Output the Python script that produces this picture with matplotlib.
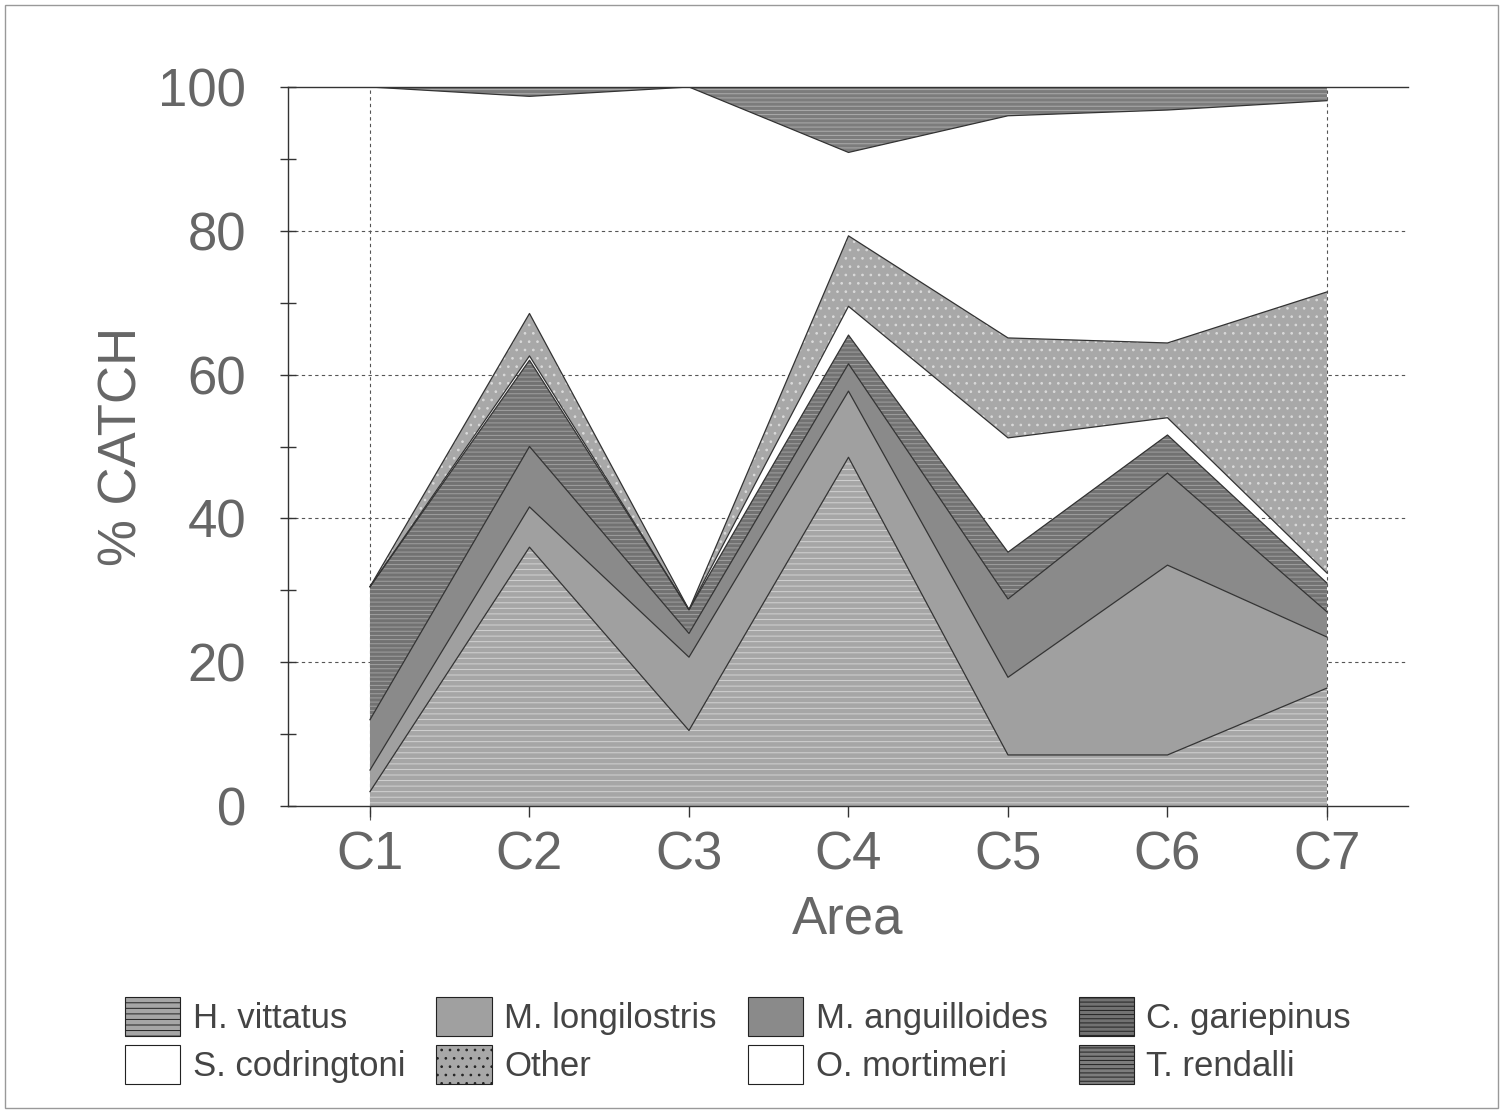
import numpy as np
import matplotlib
matplotlib.use("Agg")
import matplotlib.pyplot as plt
from matplotlib.patches import Patch, Rectangle

# percentage of catch per area
areas = ["C1", "C2", "C3", "C4", "C5", "C6", "C7"]
species = ["H. vittatus", "M. longilostris", "M. anguilloides", "C. gariepinus",
           "S. codringtoni", "Other", "O. mortimeri", "T. rendalli"]
h_vittatus = [2.0, 36.0, 10.5, 48.5, 7.1, 7.1, 16.4]
m_longilostris = [3.0, 5.6, 10.2, 9.2, 10.8, 26.4, 7.1]
m_anguilloides = [7.0, 8.4, 3.3, 3.8, 10.9, 12.8, 3.5]
c_gariepinus = [18.5, 12.0, 3.3, 4.0, 6.5, 5.3, 4.0]
s_codringtoni = [0.0, 0.6, 0.0, 4.0, 15.9, 2.4, 1.4]
other = [0.0, 5.9, 0.0, 9.8, 13.9, 10.4, 39.1]
o_mortimeri = [69.5, 30.2, 72.7, 11.6, 30.9, 32.4, 26.6]
t_rendalli = [0.0, 1.3, 0.0, 9.1, 4.0, 3.2, 1.9]

series = [h_vittatus, m_longilostris, m_anguilloides, c_gariepinus,
          s_codringtoni, other, o_mortimeri, t_rendalli]

# grey fills + hatch colours imitating the printed textures
faces = ["#a6a6a6", "#a0a0a0", "#8a8a8a", "#727272", "none", "#a8a8a8", "none", "#7c7c7c"]
hatch_cols = ["#d2d2d2", "#a0a0a0", "#8a8a8a", "#a0a0a0", "white", "#dadada", "white", "#acacac"]
hatches = ["---", "", "", "----", "", "..", "", "----"]

plt.rcParams['font.family'] = ['Liberation Sans', 'DejaVu Sans']
plt.rcParams['hatch.linewidth'] = 0.7

W, H = 1503, 1113
fig = plt.figure(figsize=(W / 100, H / 100), dpi=100)
ax = fig.add_axes([288 / W, 1 - 806 / H, (1408 - 288) / W, (806 - 87) / H])

x = np.arange(1, len(areas) + 1)
polys = ax.stackplot(x, *series, colors=faces, hatch=hatches, zorder=2)
for p, hc in zip(polys, hatch_cols):
    p.set_edgecolor(hc)
    p.set_linewidth(0)

# boundary lines between the layers
cum = np.cumsum(np.array(series), axis=0)
for row in cum[:-1]:
    ax.plot(x, row, color="#333333", lw=0.9, zorder=3)

ax.set_xlim(0.486, 7.508)
ax.set_ylim(0, 100)
ax.set_xticks(x)
ax.set_xticklabels(areas)
ax.set_yticks(np.arange(0, 101, 20))
ax.set_yticks(np.arange(10, 100, 20), minor=True)

for v in range(20, 100, 20):
    ax.axhline(v, color="#555555", lw=0.8, ls=(0, (3, 3)), zorder=1)
for xv in (x[0], x[-1]):
    ax.axvline(xv, color="#555555", lw=0.8, ls=(0, (3, 3)), zorder=1,
               ymin=-0.02, clip_on=False)

ax.spines['right'].set_visible(False)
for s in ('left', 'bottom', 'top'):
    ax.spines[s].set_color("#333333")
    ax.spines[s].set_linewidth(1.0)

txt = "#666666"
ax.tick_params(axis='y', which='both', direction='inout', length=12, width=1,
               color="#333333", labelsize=38, labelcolor=txt, pad=24)
ax.tick_params(axis='x', direction='out', length=8, width=1, color="#333333",
               labelsize=38, labelcolor=txt, pad=10)
ax.set_xlabel("Area", fontsize=38, color=txt, labelpad=10)
ax.set_ylabel("% CATCH", fontsize=38, color=txt, labelpad=8)

handles = [Patch(facecolor=("white" if f == "none" else f), edgecolor="#222222",
                 hatch=h, lw=0.8)
           for f, h in zip(faces, hatches)]
order = [0, 4, 1, 5, 2, 6, 3, 7]
leg = fig.legend([handles[i] for i in order], [species[i] for i in order],
                 ncol=4, loc='upper left', bbox_to_anchor=(111 / W, 1 - 983 / H),
                 frameon=False, fontsize=25, handlelength=1.6, handleheight=1.35,
                 handletextpad=0.35, columnspacing=0.9, labelspacing=0.25,
                 borderaxespad=0)
for t in leg.get_texts():
    t.set_color("#444444")

fig.patches.append(Rectangle((5 / W, 5 / H), 1 - 10 / W, 1 - 10 / H,
                             transform=fig.transFigure, fill=False,
                             edgecolor="#999999", lw=1))

fig.savefig("out.png", dpi=100)
